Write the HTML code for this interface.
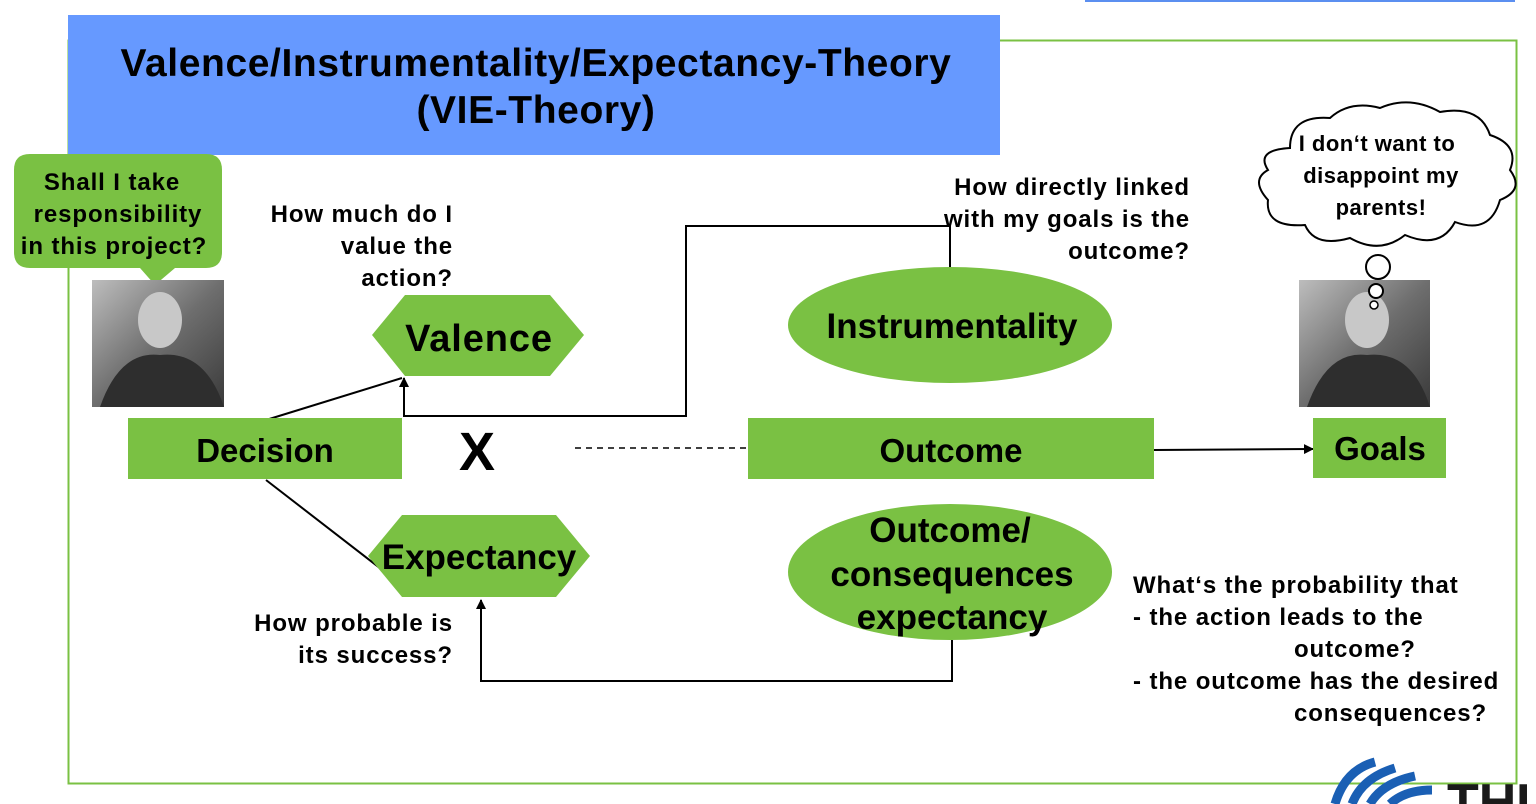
<!DOCTYPE html>
<html><head><meta charset="utf-8"><style>
html,body{margin:0;padding:0;background:#fff;}
svg{display:block;font-family:"Liberation Sans",Arial,sans-serif;font-weight:bold;}
.s{letter-spacing:0.9px;}
</style></head><body>
<svg width="1536" height="804" viewBox="0 0 1536 804" xmlns="http://www.w3.org/2000/svg">
<defs>
<marker id="ar" markerWidth="10" markerHeight="10" refX="9" refY="5" orient="auto" markerUnits="userSpaceOnUse"><path d="M0,0 L10,5 L0,10 z" fill="#000"/></marker>
<linearGradient id="ph" x1="0" y1="0" x2="1" y2="1"><stop offset="0" stop-color="#bdbdbd"/><stop offset="0.5" stop-color="#6e6e6e"/><stop offset="1" stop-color="#3a3a3a"/></linearGradient>
</defs>
<rect x="1085" y="0" width="430" height="2" fill="#5b8ff0"/>
<rect x="68.5" y="40.5" width="1448" height="743" fill="none" stroke="#7ac143" stroke-width="2"/>
<rect x="68" y="15" width="932" height="140" fill="#6699ff"/>
<text x="536" y="76" font-size="39" text-anchor="middle" fill="#000" style="letter-spacing:0.6px">Valence/Instrumentality/Expectancy-Theory</text>
<text x="536" y="123" font-size="39" text-anchor="middle" fill="#000" style="letter-spacing:0.6px">(VIE-Theory)</text>

<path d="M30,154 H206 Q222,154 222,170 V252 Q222,268 206,268 H175 L155,285 L140,268 H30 Q14,268 14,252 V170 Q14,154 30,154 Z" fill="#7ac143"/>
<text font-size="24" text-anchor="middle" fill="#000" class="s"><tspan x="112" y="190">Shall I take</tspan><tspan x="118" y="222">responsibility</tspan><tspan x="114" y="254">in this project?</tspan></text>

<rect x="92" y="280" width="132" height="127" fill="url(#ph)"/>
<ellipse cx="160" cy="320" rx="22" ry="28" fill="#c8c8c8"/>
<path d="M100,407 Q120,350 160,355 Q205,350 224,407 Z" fill="#2e2e2e"/>
<rect x="1299" y="280" width="131" height="127" fill="url(#ph)"/>
<ellipse cx="1367" cy="320" rx="22" ry="28" fill="#c8c8c8"/>
<path d="M1307,407 Q1327,350 1367,355 Q1412,350 1430,407 Z" fill="#2e2e2e"/>

<path d="M1290,148 Q1290,115 1330,118 Q1350,100 1380,108 Q1410,95 1440,112 Q1480,105 1490,135 Q1520,145 1510,170 Q1525,190 1500,200 Q1490,235 1455,222 Q1440,250 1405,235 Q1380,255 1350,238 Q1315,248 1305,225 Q1265,228 1268,200 Q1250,180 1268,170 Q1255,150 1290,148 Z" fill="#fff" stroke="#000" stroke-width="2"/>
<text font-size="22" text-anchor="middle" fill="#000" style="letter-spacing:0.5px"><tspan x="1377" y="151">I don‘t want to</tspan><tspan x="1381" y="183">disappoint my</tspan><tspan x="1381" y="215">parents!</tspan></text>
<circle cx="1378" cy="267" r="12" fill="#fff" stroke="#000" stroke-width="2"/>
<circle cx="1376" cy="291" r="7" fill="#fff" stroke="#000" stroke-width="2"/>
<circle cx="1374" cy="305" r="4" fill="#fff" stroke="#000" stroke-width="1.5"/>

<text font-size="24" text-anchor="end" fill="#000" class="s"><tspan x="453" y="222">How much do I</tspan><tspan x="453" y="254">value the</tspan><tspan x="453" y="286">action?</tspan></text>
<text font-size="24" text-anchor="end" fill="#000" class="s"><tspan x="1190" y="195">How directly linked</tspan><tspan x="1190" y="227">with my goals is the</tspan><tspan x="1190" y="259">outcome?</tspan></text>
<text font-size="24" text-anchor="end" fill="#000" class="s"><tspan x="453" y="631">How probable is</tspan><tspan x="453" y="663">its success?</tspan></text>
<text font-size="24" fill="#000" class="s"><tspan x="1133" y="593">What‘s the probability that</tspan><tspan x="1133" y="625">- the action leads to the</tspan><tspan x="1294" y="657">outcome?</tspan><tspan x="1133" y="689">- the outcome has the desired</tspan><tspan x="1294" y="721">consequences?</tspan></text>

<line x1="266" y1="420" x2="402" y2="378" stroke="#000" stroke-width="2"/>
<line x1="266" y1="480" x2="385" y2="572" stroke="#000" stroke-width="2"/>
<polyline points="950,268 950,226 686,226 686,416 404,416 404,378" fill="none" stroke="#000" stroke-width="2" marker-end="url(#ar)"/>
<polyline points="952,640 952,681 481,681 481,600" fill="none" stroke="#000" stroke-width="2" marker-end="url(#ar)"/>
<line x1="575" y1="448" x2="748" y2="448" stroke="#000" stroke-width="1.5" stroke-dasharray="6,5"/>
<line x1="1154" y1="450" x2="1313" y2="449" stroke="#000" stroke-width="2" marker-end="url(#ar)"/>

<polygon points="372,335 405,295 550,295 584,335 550,376 405,376" fill="#7ac143"/>
<text x="479" y="351" font-size="38" text-anchor="middle" fill="#000" class="s">Valence</text>
<polygon points="368,556 402,515 556,515 590,556 556,597 402,597" fill="#7ac143"/>
<text x="479" y="569" font-size="35" text-anchor="middle" fill="#000">Expectancy</text>
<rect x="128" y="418" width="274" height="61" fill="#7ac143"/>
<text x="265" y="462" font-size="33" text-anchor="middle" fill="#000">Decision</text>
<text x="477" y="470" font-size="54" text-anchor="middle" fill="#000">X</text>
<rect x="748" y="418" width="406" height="61" fill="#7ac143"/>
<text x="951" y="462" font-size="33" text-anchor="middle" fill="#000">Outcome</text>
<rect x="1313" y="418" width="133" height="60" fill="#7ac143"/>
<text x="1380" y="460" font-size="33" text-anchor="middle" fill="#000">Goals</text>
<ellipse cx="950" cy="325" rx="162" ry="58" fill="#7ac143"/>
<text x="952" y="338" font-size="35" text-anchor="middle" fill="#000">Instrumentality</text>
<ellipse cx="950" cy="572" rx="162" ry="68" fill="#7ac143"/>
<text font-size="35" text-anchor="middle" fill="#000"><tspan x="950" y="542">Outcome/</tspan><tspan x="952" y="586">consequences</tspan><tspan x="952" y="629">expectancy</tspan></text>

<g fill="none" stroke="#1a5fb4" stroke-width="9">
<path d="M1335,804 Q1345,770 1375,762"/>
<path d="M1352,804 Q1362,778 1395,768"/>
<path d="M1370,804 Q1382,783 1415,776"/>
<path d="M1390,804 Q1405,790 1432,790"/>
</g>
<text x="1447" y="820" font-size="52" fill="#1a1a1a">THU</text>
</svg>
</body></html>
